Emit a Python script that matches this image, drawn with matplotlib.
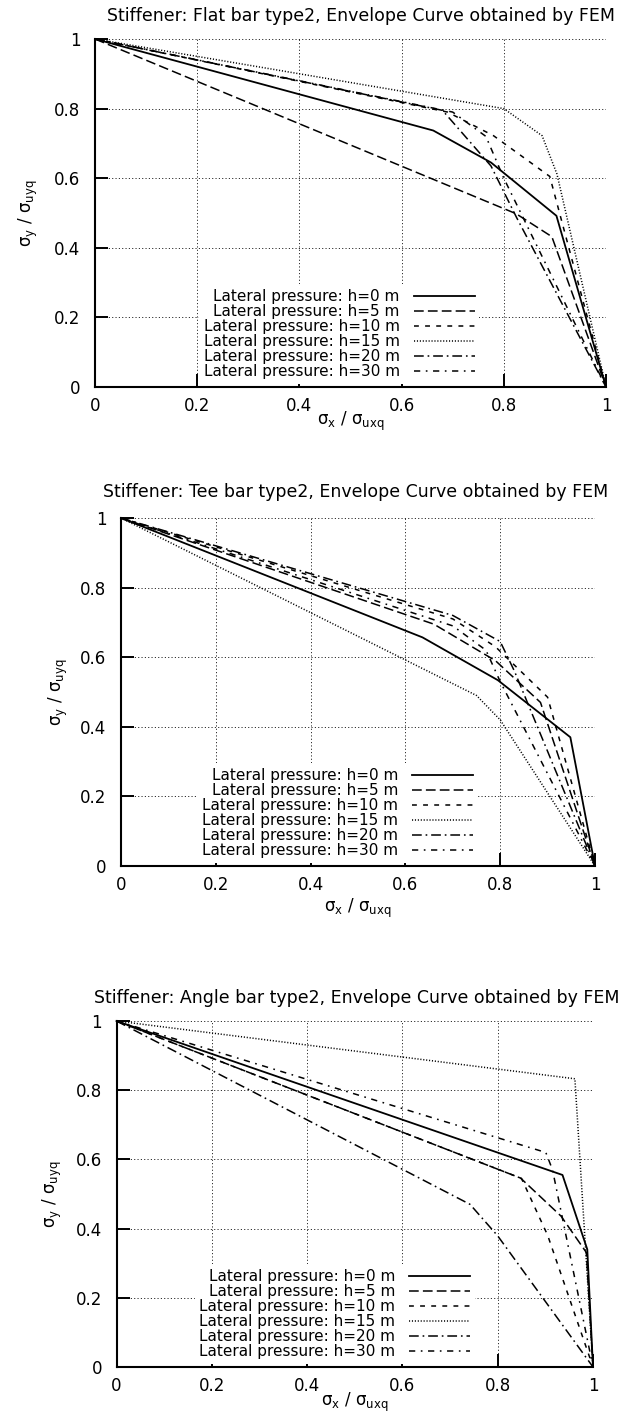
import matplotlib
matplotlib.use("Agg")
import matplotlib.pyplot as plt
from matplotlib.ticker import FixedLocator, FixedFormatter

# ---------------- data ----------------
legend_labels = ["Lateral pressure: h=0 m", "Lateral pressure: h=5 m",
                 "Lateral pressure: h=10 m", "Lateral pressure: h=15 m",
                 "Lateral pressure: h=20 m", "Lateral pressure: h=30 m"]
tick_values = [0, 0.2, 0.4, 0.6, 0.8, 1]
tick_labels = ["0", "0.2", "0.4", "0.6", "0.8", "1"]
titles = ["Stiffener: Flat bar type2, Envelope Curve obtained by FEM",
          "Stiffener: Tee bar type2, Envelope Curve obtained by FEM",
          "Stiffener: Angle bar type2, Envelope Curve obtained by FEM"]

# Flat bar
flat_h0_x = [0, 0.662, 0.775, 0.903, 1]
flat_h0_y = [1, 0.737, 0.645, 0.492, 0]
flat_h5_x = [0, 0.824, 0.894, 1]
flat_h5_y = [1, 0.498, 0.432, 0]
flat_h10_x = [0, 0.69, 0.78, 0.89, 1]
flat_h10_y = [1, 0.79, 0.722, 0.605, 0]
flat_h15_x = [0, 0.80, 0.875, 0.904, 1]
flat_h15_y = [1, 0.80, 0.722, 0.612, 0]
flat_h20_x = [0, 0.68, 0.775, 0.825, 1]
flat_h20_y = [1, 0.795, 0.635, 0.487, 0]
flat_h30_x = [0, 0.70, 0.765, 0.80, 1]
flat_h30_y = [1, 0.79, 0.72, 0.60, 0]

# Tee bar
tee_h0_x = [0, 0.636, 0.795, 0.948, 1]
tee_h0_y = [1, 0.657, 0.534, 0.37, 0]
tee_h5_x = [0, 0.66, 0.79, 0.885, 1]
tee_h5_y = [1, 0.695, 0.59, 0.47, 0]
tee_h10_x = [0, 0.70, 0.79, 0.90, 1]
tee_h10_y = [1, 0.71, 0.63, 0.485, 0]
tee_h15_x = [0, 0.75, 0.80, 1]
tee_h15_y = [1, 0.49, 0.42, 0]
tee_h20_x = [0, 0.70, 0.80, 0.83, 1]
tee_h20_y = [1, 0.72, 0.645, 0.56, 0]
tee_h30_x = [0, 0.70, 0.77, 0.80, 1]
tee_h30_y = [1, 0.69, 0.62, 0.53, 0]

# Angle bar
angle_h0_x = [0, 0.936, 0.988, 1]
angle_h0_y = [1, 0.555, 0.34, 0]
angle_h5_x = [0, 0.848, 0.933, 0.986, 1]
angle_h5_y = [1, 0.546, 0.436, 0.331, 0]
angle_h10_x = [0, 0.85, 0.905, 1]
angle_h10_y = [1, 0.545, 0.38, 0]
angle_h15_x = [0, 0.962, 1]
angle_h15_y = [1, 0.833, 0]
angle_h20_x = [0, 0.742, 0.80, 1]
angle_h20_y = [1, 0.47, 0.379, 0]
angle_h30_x = [0, 0.901, 0.915, 1]
angle_h30_y = [1, 0.62, 0.57, 0]

# ---------------- styling ----------------
plt.rcParams["font.family"] = ["DejaVu Sans"]
plt.rcParams["lines.scale_dashes"] = False
plt.rcParams["mathtext.fontset"] = "dejavusans"

styles = [
    dict(linestyle="-", linewidth=1.3),
    dict(linestyle=(0, (7, 3)), linewidth=1.1),
    dict(linestyle=(0, (3.5, 4.5)), linewidth=1.1),
    dict(linestyle=(0, (0.8, 1.3)), linewidth=1.1),
    dict(linestyle=(0, (7, 2.8, 1.2, 2.8)), linewidth=1.1),
    dict(linestyle=(0, (4.5, 4, 1.2, 4)), linewidth=1.1),
]

W, H = 641, 1421
fig = plt.figure(figsize=(W / 100, H / 100), dpi=100)


def add_px_axes(left, right, top, bottom):
    return fig.add_axes([left / W, 1 - bottom / H, (right - left) / W, (bottom - top) / H])


panels = [
    dict(rect=(95, 606, 39, 387), title_xy=(361, 16), xlab_y=421, ylab_x=28,
         series=[(flat_h0_x, flat_h0_y), (flat_h5_x, flat_h5_y), (flat_h10_x, flat_h10_y),
                 (flat_h15_x, flat_h15_y), (flat_h20_x, flat_h20_y), (flat_h30_x, flat_h30_y)]),
    dict(rect=(121, 595, 518, 866), title_xy=(356, 492), xlab_y=908, ylab_x=58,
         series=[(tee_h0_x, tee_h0_y), (tee_h5_x, tee_h5_y), (tee_h10_x, tee_h10_y),
                 (tee_h15_x, tee_h15_y), (tee_h20_x, tee_h20_y), (tee_h30_x, tee_h30_y)]),
    dict(rect=(116.5, 593, 1021, 1367), title_xy=(357, 998), xlab_y=1402, ylab_x=52,
         series=[(angle_h0_x, angle_h0_y), (angle_h5_x, angle_h5_y), (angle_h10_x, angle_h10_y),
                 (angle_h15_x, angle_h15_y), (angle_h20_x, angle_h20_y), (angle_h30_x, angle_h30_y)]),
]

for i, p in enumerate(panels):
    l, r, t, b = p["rect"]
    ax = add_px_axes(l, r, t, b)
    for (xs, ys), lab, st in zip(p["series"], legend_labels, styles):
        ax.plot(xs, ys, color="black", label=lab, clip_on=False, **st)
    ax.set_xlim(0, 1)
    ax.set_ylim(0, 1)
    ax.xaxis.set_major_locator(FixedLocator(tick_values))
    ax.xaxis.set_major_formatter(FixedFormatter(tick_labels))
    ax.yaxis.set_major_locator(FixedLocator(tick_values))
    ax.yaxis.set_major_formatter(FixedFormatter(tick_labels))
    ax.spines["top"].set_visible(False)
    ax.spines["right"].set_visible(False)
    ax.spines["left"].set_linewidth(1.5)
    ax.spines["bottom"].set_linewidth(1.5)
    ax.tick_params(axis="both", direction="in", length=9.4, width=1.4,
                   labelsize=12, top=False, right=False)
    ax.tick_params(axis="y", pad=10.5)
    ax.tick_params(axis="x", pad=7)
    ax.grid(True, linestyle=(0, (0.8, 1.6)), color="black", linewidth=0.6)
    ax.set_axisbelow(True)

    wpx = r - l
    hpx = b - t
    ax.set_xlabel(r"σ$_{\rm x}$ / σ$_{\rm uxq}$", fontsize=12)
    ax.xaxis.set_label_coords(0.5, (b - p["xlab_y"]) / hpx)
    ax.xaxis.label.set_va("center")
    ax.set_ylabel(r"σ$_{\rm y}$ / σ$_{\rm uyq}$", fontsize=12)
    ax.yaxis.set_label_coords((p["ylab_x"] - l) / wpx, 0.5)
    ax.yaxis.label.set_va("center")

    ax.legend(loc="lower right", bbox_to_anchor=(0.752, 0.01), markerfirst=False,
              fontsize=11, handlelength=4.0, handletextpad=0.9, labelspacing=0.0,
              borderpad=0.3, borderaxespad=0, frameon=True, fancybox=False,
              framealpha=1, facecolor="white", edgecolor="none")

    tx, ty = p["title_xy"]
    fig.text(tx / W, 1 - ty / H, titles[i], ha="center", va="center", fontsize=12.5)

fig.savefig("out.png", dpi=100)
